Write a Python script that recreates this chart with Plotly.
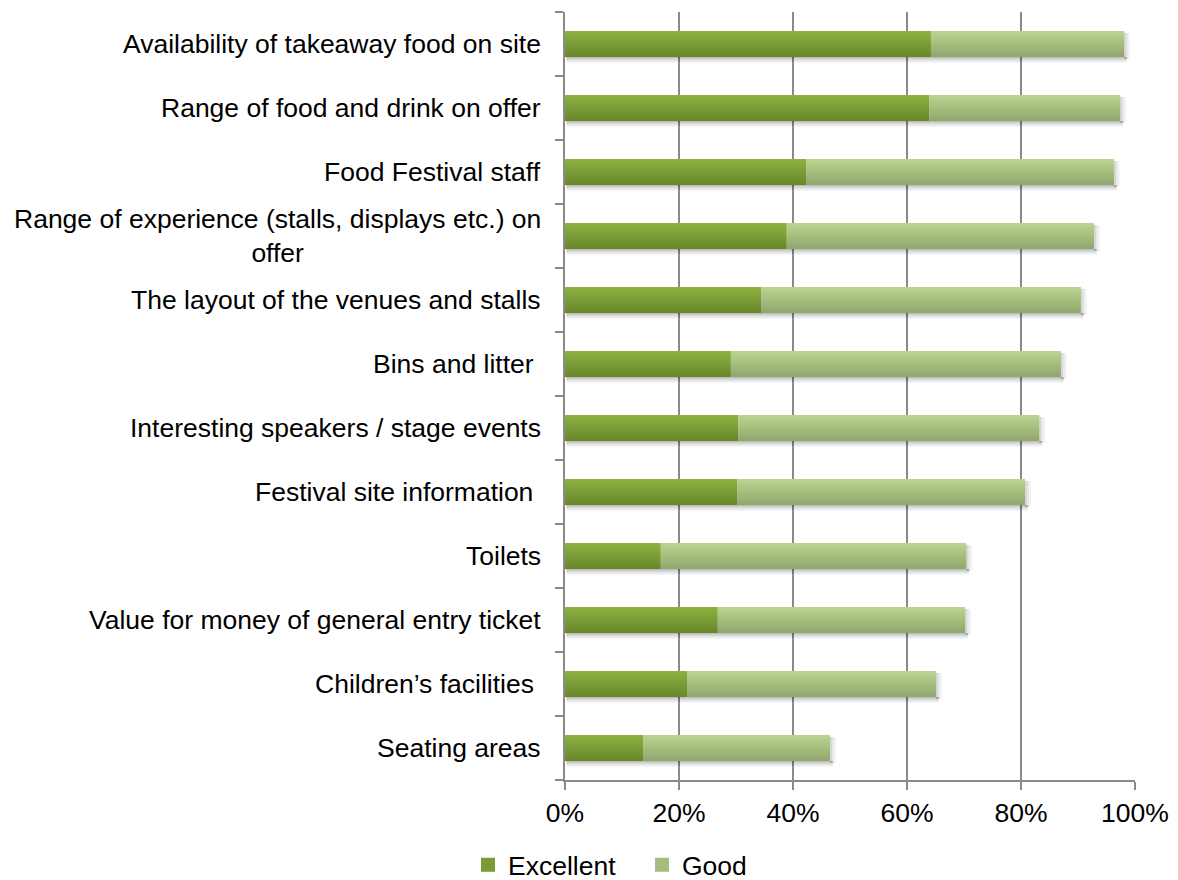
import plotly.graph_objects as go

# Satisfaction ratings for festival aspects (share of respondents)
categories = [
    "Availability of takeaway food on site",
    "Range of food and drink on offer",
    "Food Festival staff",
    "Range of experience (stalls, displays etc.) on<br>offer",
    "The layout of the venues and stalls",
    "Bins and litter\u00a0",
    "Interesting speakers / stage events",
    "Festival site information\u00a0",
    "Toilets",
    "Value for money of general entry ticket",
    "Children\u2019s facilities\u00a0",
    "Seating areas",
]
excellent = [64.2, 63.9, 42.3, 38.9, 34.4, 29.1, 30.4, 30.2, 16.8, 26.8, 21.4, 13.7]
good = [33.9, 33.5, 54.0, 53.9, 56.1, 57.9, 52.8, 50.5, 53.6, 43.4, 43.7, 32.8]
x_ticks = [0, 20, 40, 60, 80, 100]
x_tick_labels = ["0%", "20%", "40%", "60%", "80%", "100%"]

FONT = "Liberation Sans, Arial, sans-serif"
FSIZE = 26.5
BAR_W = 0.41       # bar thickness in category units
N_STRIPES = 14     # horizontal bands used to shade each bar
PX = 1 / 64        # one pixel in category units (64 px per category)

totals = [e + g for e, g in zip(excellent, good)]
idx = list(range(len(categories)))


def mix(c1, c2, t):
    return "rgb({},{},{})".format(*[round(a + (b - a) * t) for a, b in zip(c1, c2)])


fig = go.Figure()

# soft drop shadow under each bar
shadow_steps = [0.26, 0.19, 0.12, 0.07, 0.035]
off = BAR_W / 2
for alpha in shadow_steps:
    fig.add_trace(go.Bar(
        y=idx, x=[t + 0.3 for t in totals], base=[0.2] * len(idx),
        orientation="h", width=PX * 1.2, offset=off,
        marker=dict(color=f"rgba(0,0,0,{alpha})", line=dict(width=0)),
        showlegend=False, hoverinfo="skip",
    ))
    off += PX * 1.2
# shadow on the right end of each bar
for j, alpha in enumerate([0.16, 0.09, 0.045]):
    fig.add_trace(go.Bar(
        y=idx, x=[0.35] * len(idx), base=[t + 0.35 * j for t in totals],
        orientation="h", width=BAR_W, offset=-BAR_W / 2 + 2 * PX,
        marker=dict(color=f"rgba(0,0,0,{alpha})", line=dict(width=0)),
        showlegend=False, hoverinfo="skip",
    ))

series = [
    ("Excellent", excellent, [0] * len(idx), (0x8D, 0xB1, 0x40), (0x68, 0x88, 0x2C)),
    ("Good", good, excellent, (0xBA, 0xD3, 0x8F), (0x92, 0xA7, 0x6F)),
]
for name, vals, base, top_c, bot_c in series:
    h = BAR_W / N_STRIPES
    for k in range(N_STRIPES):
        t = k / (N_STRIPES - 1)
        w = h if k == N_STRIPES - 1 else h * 1.6
        fig.add_trace(go.Bar(
            y=idx, x=vals, base=base, orientation="h",
            width=w, offset=-BAR_W / 2 + k * h,
            marker=dict(color=mix(top_c, bot_c, t), line=dict(width=0)),
            showlegend=False, hoverinfo="skip",
        ))
    # legend key
    fig.add_trace(go.Scatter(
        x=[None], y=[None], mode="markers", name=name,
        marker=dict(symbol="square", size=14, color=mix(top_c, bot_c, 0.5)),
    ))

# category labels, right-aligned against the axis, multi-line labels centred
for i, c in enumerate(categories):
    fig.add_annotation(
        x=0, xref="paper", xanchor="right", xshift=-22,
        y=i, yref="y", yanchor="middle",
        text=c, showarrow=False, align="center",
        font=dict(family=FONT, size=FSIZE, color="#000000"),
    )

fig.update_layout(
    width=1178, height=880,
    margin=dict(l=565, r=43, t=12, b=100, autoexpand=False),
    barmode="overlay",
    plot_bgcolor="white", paper_bgcolor="white",
    font=dict(family=FONT, size=FSIZE, color="#000000"),
    legend=dict(
        orientation="h", x=0.545, xref="container", xanchor="center",
        y=0.017, yref="container", yanchor="middle",
        font=dict(family=FONT, size=FSIZE), itemwidth=30,
        entrywidth=129, entrywidthmode="pixels",
        traceorder="normal", itemclick=False,
    ),
    showlegend=True,
)
fig.update_xaxes(
    range=[0, 100], tickvals=x_ticks, ticktext=x_tick_labels,
    showgrid=True, gridcolor="#8a8a8a", gridwidth=2,
    showline=True, linecolor="#8a8a8a", linewidth=2,
    ticks="outside", ticklen=8, tickwidth=2, tickcolor="#8a8a8a",
    zeroline=False, tickfont=dict(family=FONT, size=FSIZE),
)
fig.update_yaxes(
    range=[len(idx) - 0.5, -0.5], tickvals=[i - 0.5 for i in idx] + [len(idx) - 0.5],
    showticklabels=False, showgrid=False, zeroline=False,
    showline=True, linecolor="#8a8a8a", linewidth=2,
    ticks="outside", ticklen=8, tickwidth=2, tickcolor="#8a8a8a",
)

fig.write_html("out.html")
